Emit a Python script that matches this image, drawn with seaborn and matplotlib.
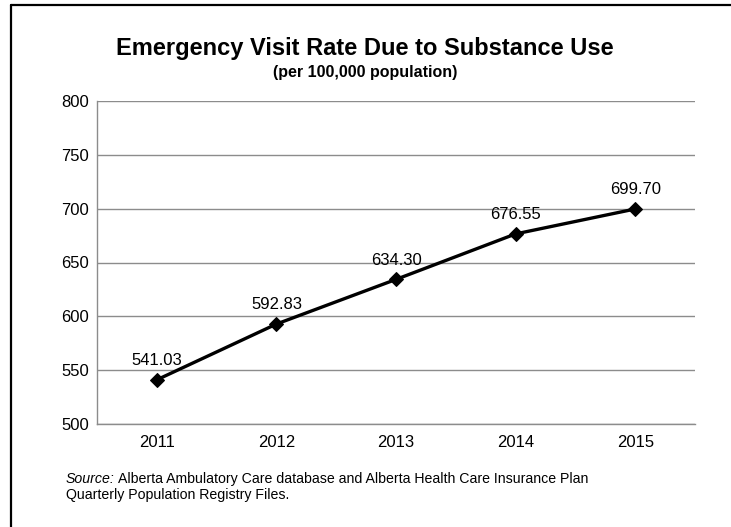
import matplotlib
matplotlib.use("Agg")
import matplotlib.pyplot as plt
import seaborn as sns
import pandas as pd
from matplotlib.lines import Line2D

years = ["2011", "2012", "2013", "2014", "2015"]
rates = [541.03, 592.83, 634.30, 676.55, 699.70]
y_ticks = [500, 550, 600, 650, 700, 750, 800]

sns.set_theme(style="white")
plt.rcParams["font.family"] = ["Liberation Sans", "DejaVu Sans"]
plt.rcParams["text.color"] = "black"
plt.rcParams["xtick.color"] = "black"
plt.rcParams["ytick.color"] = "black"

df = pd.DataFrame({"pos": range(len(years)), "rate": rates})

fig = plt.figure(figsize=(7.31, 5.27), dpi=100)
ax = fig.add_axes([97 / 731, 1 - 424 / 527, (695 - 97) / 731, (424 - 101) / 527])

sns.lineplot(data=df, x="pos", y="rate", ax=ax, color="black", linewidth=2.4,
             marker="D", markersize=7, markerfacecolor="black",
             markeredgecolor="black", zorder=3)

for x, v in zip(df["pos"], rates):
    ax.annotate(f"{v:.2f}", (x, v), xytext=(0, 8.5), textcoords="offset points",
                ha="center", va="bottom", fontsize=12, color="black")

ax.set_xlim(-0.5, len(years) - 0.5)
ax.set_ylim(500, 800)
ax.set_yticks(y_ticks)
ax.set_yticklabels([str(t) for t in y_ticks], fontsize=12)
ax.set_xticks(range(len(years)))
ax.set_xticklabels(years, fontsize=12)
ax.set_xticks([i - 0.5 for i in range(len(years) + 1)], minor=True)
ax.tick_params(axis="x", which="major", length=0, pad=8)
ax.tick_params(axis="x", which="minor", length=5, color="#8c8c8c", width=1, direction="out")
ax.tick_params(axis="y", length=0, pad=6)
ax.set_xlabel("")
ax.set_ylabel("")

ax.grid(axis="y", color="#8c8c8c", linewidth=1)
ax.grid(axis="x", visible=False)
for side in ("top", "right"):
    ax.spines[side].set_visible(False)
for side in ("left", "bottom"):
    ax.spines[side].set_color("#8c8c8c")
    ax.spines[side].set_linewidth(1)

fig.text(0.499, 1 - 48 / 527, "Emergency Visit Rate Due to Substance Use",
         ha="center", va="center", fontsize=17, fontweight="bold")
fig.text(0.499, 1 - 72 / 527, "(per 100,000 population)",
         ha="center", va="center", fontsize=11.5, fontweight="bold")

# source note: italic label followed by the plain text on the same line
src_x, src_y1, src_y2 = 66 / 731, 1 - 479 / 527, 1 - 495 / 527
lab = fig.text(src_x, src_y1, "Source:", ha="left", va="center",
               fontsize=10.2, style="italic")
renderer = fig.canvas.get_renderer()
w = lab.get_window_extent(renderer=renderer).width
fig.text(src_x + (w + 3) / fig.bbox.width, src_y1,
         "Alberta Ambulatory Care database and Alberta Health Care Insurance Plan",
         ha="left", va="center", fontsize=10.2)
fig.text(src_x, src_y2, "Quarterly Population Registry Files.",
         ha="left", va="center", fontsize=10.2)

# frame lines along the top and left edges of the figure
fig.add_artist(Line2D([11 / 731, 1], [1 - 5 / 527, 1 - 5 / 527],
                      transform=fig.transFigure, color="black", linewidth=1.6))
fig.add_artist(Line2D([11 / 731, 11 / 731], [0, 1 - 5 / 527],
                      transform=fig.transFigure, color="black", linewidth=1.6))

fig.savefig("out.png", dpi=100)
